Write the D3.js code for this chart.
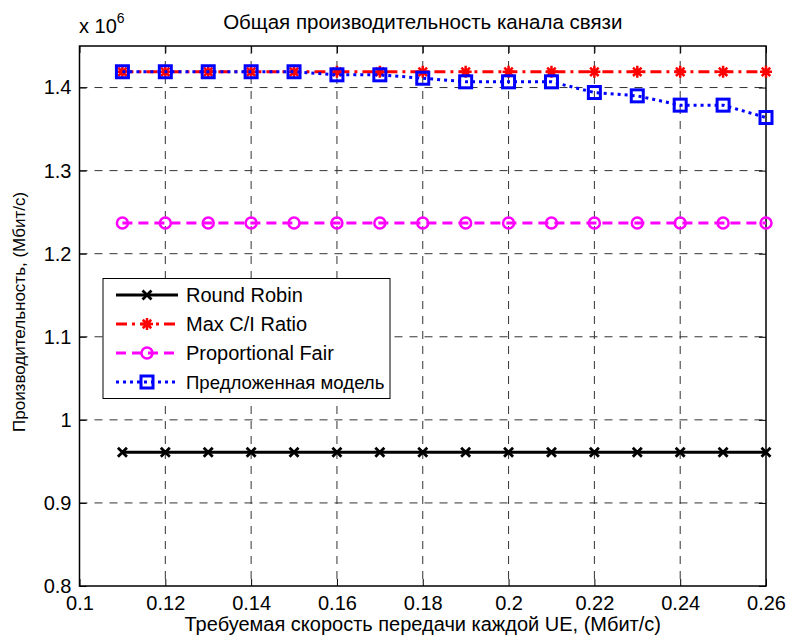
<!DOCTYPE html>
<html><head><meta charset="utf-8">
<script src="https://cdn.jsdelivr.net/npm/d3@7"></script>
<style>
html,body{margin:0;padding:0;background:#fff;}
svg{display:block;font-family:"Liberation Sans",Arial,sans-serif;}
</style></head>
<body><svg id="chart" width="789" height="642"></svg>
<script>
// Data (throughput in units of 10^6)
const xValues = [0.11,0.12,0.13,0.14,0.15,0.16,0.17,0.18,0.19,0.20,0.21,0.22,0.23,0.24,0.25,0.26];
const roundRobin = [0.961,0.961,0.961,0.961,0.961,0.961,0.961,0.961,0.961,0.961,0.961,0.961,0.961,0.961,0.961,0.961];
const maxCI = [1.419,1.419,1.419,1.419,1.419,1.419,1.419,1.419,1.419,1.419,1.419,1.419,1.419,1.419,1.419,1.419];
const propFair = [1.237,1.237,1.237,1.237,1.237,1.237,1.237,1.237,1.237,1.237,1.237,1.237,1.237,1.237,1.237,1.237];
const proposed = [1.419,1.419,1.419,1.419,1.419,1.4153,1.4153,1.4112,1.4069,1.4069,1.4069,1.394,1.390,1.3788,1.3788,1.3639];
const xTicks = [0.1,0.12,0.14,0.16,0.18,0.2,0.22,0.24,0.26];
const yTicks = [0.8,0.9,1.0,1.1,1.2,1.3,1.4];
const seriesNames = ["Round Robin","Max C/I Ratio","Proportional Fair","Предложенная модель"];
const titleText = "Общая производительность канала связи";
const xLabelText = "Требуемая скорость передачи каждой UE, (Мбит/с)";
const yLabelText = "Производительность, (Мбит/с)";

const svg = d3.select("#chart");
const L = 79.5, R = 766, T = 46, B = 586;
const x = d3.scaleLinear().domain([0.1,0.26]).range([L,R]);
const y = d3.scaleLinear().domain([0.8,1.45]).range([B,T]);
const fs = 20;

// grid
const g = svg.append("g");
g.selectAll(".gx").data(xTicks.slice(1,-1)).join("line")
  .attr("x1",d=>x(d)).attr("x2",d=>x(d)).attr("y1",T).attr("y2",B)
  .attr("stroke","#333").attr("stroke-width",1).attr("stroke-dasharray","8,7");
g.selectAll(".gy").data(yTicks.slice(1)).join("line")
  .attr("x1",L).attr("x2",R).attr("y1",d=>y(d)).attr("y2",d=>y(d))
  .attr("stroke","#333").attr("stroke-width",1).attr("stroke-dasharray","8,7");

// axes
const tickLen = 7;
const xAxisB = d3.axisBottom(x).tickValues(xTicks).tickSizeInner(-tickLen).tickSizeOuter(0).tickPadding(10)
  .tickFormat(d=>d3.format("~g")(d));
const xAxisT = d3.axisTop(x).tickValues(xTicks).tickSizeInner(-tickLen).tickSizeOuter(0).tickFormat("");
const yAxisL = d3.axisLeft(y).tickValues(yTicks).tickSizeInner(-tickLen).tickSizeOuter(0).tickPadding(8)
  .tickFormat(d=>d3.format("~g")(d));
const yAxisR = d3.axisRight(y).tickValues(yTicks).tickSizeInner(-tickLen).tickSizeOuter(0).tickFormat("");
function styleAxis(sel){
  sel.select(".domain").remove();
  sel.selectAll("line").attr("stroke","#000").attr("stroke-width",1);
  sel.selectAll("text").attr("fill","#000").style("font-size",fs+"px").style("font-family","'Liberation Sans',Arial,sans-serif");
}
svg.append("g").attr("transform",`translate(0,${B})`).call(xAxisB).call(styleAxis);
svg.append("g").attr("transform",`translate(0,${T})`).call(xAxisT).call(styleAxis);
svg.append("g").attr("transform",`translate(${L},0)`).call(yAxisL).call(styleAxis);
svg.append("g").attr("transform",`translate(${R},0)`).call(yAxisR).call(styleAxis);
svg.append("rect").attr("x",L).attr("y",T).attr("width",R-L).attr("height",B-T)
  .attr("fill","none").attr("stroke","#000").attr("stroke-width",1.5);

// series
const series = [
  {name:seriesNames[0], vals:roundRobin, color:"#000000", dash:null, marker:"x"},
  {name:seriesNames[1], vals:maxCI, color:"#ff0000", dash:"11,5,3,5", marker:"star"},
  {name:seriesNames[2], vals:propFair, color:"#ff00ff", dash:"10,6", marker:"circle"},
  {name:seriesNames[3], vals:proposed, color:"#0000ff", dash:"3,4", marker:"square"}
];
const line = d3.line().x(d=>x(d[0])).y(d=>y(d[1]));

function drawMarker(sel, type, color, cx, cy){
  const m = sel.append("g").attr("transform",`translate(${cx},${cy})`);
  if(type==="x"){
    const s=4.5;
    m.append("path").attr("d",`M${-s},${-s}L${s},${s}M${-s},${s}L${s},${-s}`)
      .attr("stroke",color).attr("stroke-width",2.8).attr("fill","none");
  } else if(type==="star"){
    const s=6;
    const d=[];
    for(let a=0;a<4;a++){const ang=a*Math.PI/4; d.push(`M${-s*Math.cos(ang)},${-s*Math.sin(ang)}L${s*Math.cos(ang)},${s*Math.sin(ang)}`);}
    m.append("path").attr("d",d.join("")).attr("stroke",color).attr("stroke-width",2.5).attr("fill","none");
  } else if(type==="circle"){
    m.append("circle").attr("r",5.5).attr("stroke",color).attr("stroke-width",2.5).attr("fill","none");
  } else if(type==="square"){
    m.append("rect").attr("x",-6).attr("y",-6).attr("width",12).attr("height",12)
      .attr("stroke",color).attr("stroke-width",3).attr("fill","none");
  }
}

series.forEach(s=>{
  const pts = xValues.map((xv,i)=>[xv,s.vals[i]]);
  const p = svg.append("path").datum(pts).attr("d",line)
    .attr("fill","none").attr("stroke",s.color).attr("stroke-width",3);
  if(s.dash) p.attr("stroke-dasharray",s.dash);
  const mg = svg.append("g");
  pts.forEach(pt=>drawMarker(mg,s.marker,s.color,x(pt[0]),y(pt[1])));
});

// legend
const lg = svg.append("g");
lg.append("rect").attr("x",103).attr("y",278.5).attr("width",287).attr("height",120)
  .attr("fill","#fff").attr("stroke","#000").attr("stroke-width",1);
const rowY = [295,324,353,382];
series.forEach((s,i)=>{
  const ly = rowY[i];
  const p = lg.append("line").attr("x1",116).attr("x2",178).attr("y1",ly).attr("y2",ly)
    .attr("stroke",s.color).attr("stroke-width",3);
  if(s.dash) p.attr("stroke-dasharray",s.dash);
  drawMarker(lg,s.marker,s.color,147,ly);
  lg.append("text").attr("x",186).attr("y",ly).attr("dy","0.35em")
    .style("font-size",(i===3?18.6:fs)+"px").text(s.name);
});

// title and labels
svg.append("text").attr("x",(L+R)/2).attr("y",29).attr("text-anchor","middle")
  .style("font-size","20.5px").text(titleText);
svg.append("text").attr("x",(L+R)/2).attr("y",631).attr("text-anchor","middle")
  .style("font-size","20px").text(xLabelText);
svg.append("text").attr("transform",`translate(25,432) rotate(-90)`).attr("text-anchor","start")
  .style("font-size","17px").text(yLabelText);
const mult = svg.append("text").attr("x",79).attr("y",33).style("font-size",fs+"px");
mult.append("tspan").text("x 10");
mult.append("tspan").attr("dy",-10).style("font-size","14px").text("6");
</script>
</body></html>
